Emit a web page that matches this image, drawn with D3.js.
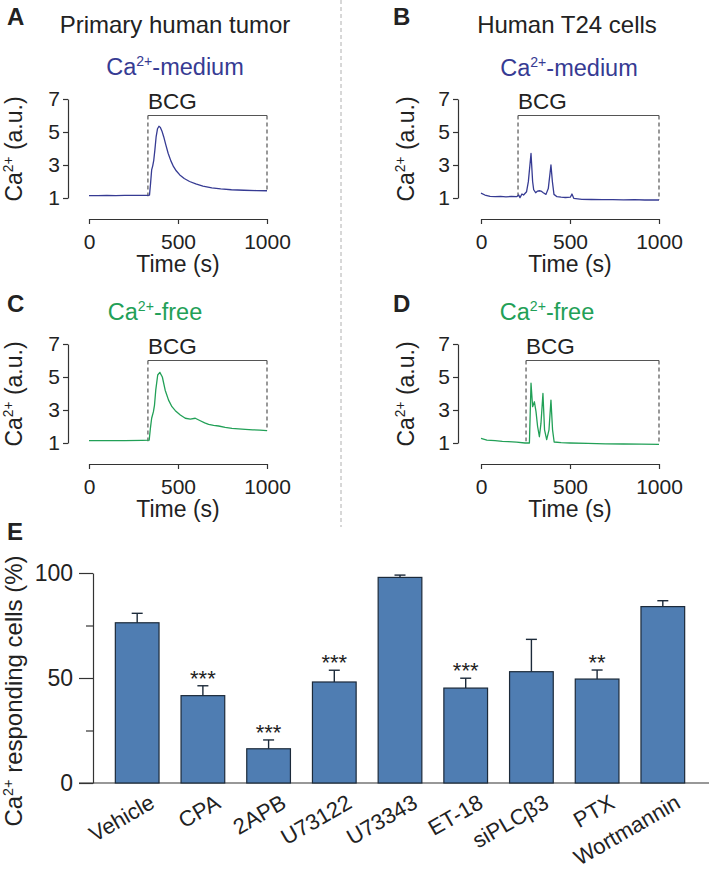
<!DOCTYPE html>
<html><head><meta charset="utf-8">
<script src="https://cdn.jsdelivr.net/npm/d3@7"></script>
<style>body{margin:0;background:#fff;} text{font-family:"Liberation Sans",Arial,Helvetica,sans-serif;fill:#222;}</style>
</head><body><svg id="c" width="709" height="872" xmlns="http://www.w3.org/2000/svg"></svg>
<script>
// ---------- DATA ----------
const tumorMediumTime = [0,50,100,150,200,250,300,330,340,346,352,358,364,370,377,385,393,401,410,420,432,445,460,475,490,510,535,565,600,640,690,740,800,870,940,1000];
const tumorMediumCa   = [1.15,1.15,1.16,1.15,1.16,1.16,1.16,1.16,1.18,1.9,2.7,2.95,3.3,3.9,4.7,5.2,5.35,5.28,5.05,4.7,4.2,3.7,3.25,2.9,2.65,2.4,2.18,2.0,1.85,1.72,1.62,1.55,1.5,1.47,1.45,1.44];

const t24MediumTime = [0,22,51,80,110,140,170,200,212,219,230,239,256,266,281,290,296,307,318,328,337,350,365,378,393,401,410,427,450,474,502,511,521,567,620,680,740,800,860,920,1000];
const t24MediumCa   = [1.3,1.18,1.1,1.08,1.1,1.07,1.09,1.08,1.18,1.02,1.24,1.18,1.38,1.99,3.7,2.0,1.5,1.32,1.42,1.44,1.42,1.32,1.22,1.57,3.0,2.0,1.22,1.08,1.05,1.03,1.05,1.24,0.98,0.92,0.91,0.9,0.9,0.89,0.9,0.88,0.88];

const tumorFreeTime = [0,100,200,300,338,345,352,362,368,375,386,398,412,428,447,466,485,513,541,569,597,625,650,672,700,728,765,803,840,878,920,960,1000];
const tumorFreeCa   = [1.14,1.15,1.15,1.16,1.17,1.9,2.5,2.9,3.3,4.2,5.12,5.28,5.0,4.2,3.6,3.2,2.96,2.7,2.5,2.45,2.5,2.35,2.22,2.13,2.07,2.03,1.95,1.89,1.86,1.83,1.8,1.78,1.75];

const t24FreeTime = [0,33,79,120,154,200,247,272,281,290,300,309,318,328,337,348,357,369,382,393,402,411,450,500,600,700,800,900,1000];
const t24FreeCa   = [1.28,1.18,1.14,1.1,1.08,1.05,1.0,1.0,4.62,3.2,3.5,2.9,2.0,1.38,2.2,4.0,1.8,1.2,1.8,3.6,1.8,1.06,1.02,1.0,0.98,0.95,0.94,0.93,0.92];

const bcgStartTimes = [331, 208, 331, 253];
const bcgEndTime = 1000;
const traceYTicks = [1,3,5,7];
const traceXTicks = [0,500,1000];

const categories  = ["Vehicle","CPA","2APB","U73122","U73343","ET-18","siPLCβ3","PTX","Wortmannin"];
const responding  = [76.3,41.6,16.3,48.1,97.9,45.2,53.0,49.5,84.0];
const respondErr  = [4.5,4.7,4.2,5.6,1.1,4.7,15.4,4.3,2.8];
const significance= ["","***","***","***","","***","","**",""];
const percentTicks = [0,50,100];
const percentMinorTicks = [25,75];

// ---------- DRAW ----------
const svg = d3.select("#c");
const BLUE = "#363b93", GREEN = "#22a057";
const FONT = "'Liberation Sans',Arial,Helvetica,sans-serif";

function caText(sel, fs, rest){
  sel.append("tspan").text("Ca");
  sel.append("tspan").attr("font-size", fs*0.6).attr("dy", -fs*0.38).text("2+");
  sel.append("tspan").attr("dy", fs*0.38).text(rest);
}

svg.append("line").attr("x1",341).attr("x2",341).attr("y1",0).attr("y2",527)
  .attr("stroke","#b0b0b0").attr("stroke-width",1).attr("stroke-dasharray","4,3");

const panels = [
  {letter:"A", time:tumorMediumTime, ca:tumorMediumCa, bcg:bcgStartTimes[0], color:BLUE, sub:"-medium",
   xr:[89,267], yAxisX:68, dy:0, letterX:7, letterY:25, subX:175, subY:75, ylabX:22, title:"Primary human tumor", titleX:175},
  {letter:"B", time:t24MediumTime, ca:t24MediumCa, bcg:bcgStartTimes[1], color:BLUE, sub:"-medium",
   xr:[481,659], yAxisX:458, dy:0, letterX:393, letterY:25, subX:569, subY:76, ylabX:414, title:"Human T24 cells", titleX:567},
  {letter:"C", time:tumorFreeTime, ca:tumorFreeCa, bcg:bcgStartTimes[2], color:GREEN, sub:"-free",
   xr:[89,267], yAxisX:68, dy:245, letterX:7, letterY:312, subX:155, subY:320, ylabX:22},
  {letter:"D", time:t24FreeTime, ca:t24FreeCa, bcg:bcgStartTimes[3], color:GREEN, sub:"-free",
   xr:[481,659], yAxisX:458, dy:245, letterX:393, letterY:312, subX:547, subY:320, ylabX:414}
];

panels.forEach(p=>{
  const x = d3.scaleLinear([0,1000], p.xr);
  const y = d3.scaleLinear([1,7], [198+p.dy, 99+p.dy]);
  svg.append("text").attr("x",p.letterX).attr("y",p.letterY).attr("font-size",24).attr("font-weight","bold").attr("fill","#111").text(p.letter);
  if(p.title) svg.append("text").attr("x",p.titleX).attr("y",33).attr("text-anchor","middle").attr("font-size",24).text(p.title);
  const st = svg.append("text").attr("x",p.subX).attr("y",p.subY).attr("text-anchor","middle").attr("font-size",23.5).style("fill",p.color);
  caText(st, 23.5, p.sub);
  const ya = svg.append("g").attr("transform",`translate(${p.yAxisX},0)`)
    .call(d3.axisLeft(y).tickValues(traceYTicks).tickSize(5).tickSizeOuter(0).tickPadding(3).tickFormat(d3.format("d")));
  ya.selectAll("text").attr("font-size",21).attr("font-family",FONT).style("fill","#222");
  ya.selectAll("path,line").attr("stroke","#333").attr("stroke-width",1.2);
  const xa = svg.append("g").attr("transform",`translate(0,${219+p.dy})`)
    .call(d3.axisBottom(x).tickValues(traceXTicks).tickSize(5).tickSizeOuter(0).tickFormat(d3.format("d")));
  xa.selectAll("text").attr("font-size",21).attr("font-family",FONT).attr("y",30).attr("dy",0).style("fill","#222");
  xa.selectAll("path,line").attr("stroke","#333").attr("stroke-width",1.2);
  svg.append("text").attr("x",(p.xr[0]+p.xr[1])/2).attr("y",272+p.dy).attr("text-anchor","middle").attr("font-size",23).text("Time (s)");
  const yl = svg.append("text").attr("transform",`translate(${p.ylabX},${149+p.dy}) rotate(-90)`).attr("text-anchor","middle").attr("font-size",23);
  caText(yl, 23, " (a.u.)");
  const endVal = p.ca[p.ca.length-1];
  svg.append("line").attr("x1",x(p.bcg)).attr("x2",x(bcgEndTime)).attr("y1",y(6)).attr("y2",y(6)).attr("stroke","#555").attr("stroke-width",1.2);
  svg.append("line").attr("x1",x(p.bcg)).attr("x2",x(p.bcg)).attr("y1",y(6)).attr("y2",y(1.1)).attr("stroke","#555").attr("stroke-width",1.2).attr("stroke-dasharray","4,3");
  svg.append("line").attr("x1",x(bcgEndTime)).attr("x2",x(bcgEndTime)).attr("y1",y(6)).attr("y2",y(endVal)).attr("stroke","#555").attr("stroke-width",1.2).attr("stroke-dasharray","4,3");
  svg.append("text").attr("x",x(p.bcg)).attr("y",y(6)-7).attr("font-size",22.5).text("BCG");
  const pts = p.time.map((t,i)=>[t,p.ca[i]]);
  svg.append("path").datum(pts).attr("fill","none").attr("stroke",p.color).attr("stroke-width",1.3)
    .attr("stroke-linejoin","round")
    .attr("d", d3.line().x(d=>x(d[0])).y(d=>y(d[1])));
});

// ---------- Panel E ----------
svg.append("text").attr("x",7).attr("y",540).attr("font-size",24).attr("font-weight","bold").attr("fill","#111").text("E");
const yE = d3.scaleLinear([0,100],[783,573]);
const xE = d3.scaleBand(categories,[93,707]).paddingInner(0.335).paddingOuter(0.34);

svg.append("line").attr("x1",79).attr("x2",709).attr("y1",yE(0)).attr("y2",yE(0)).attr("stroke","#333").attr("stroke-width",1.2);
const yaE = svg.append("g").attr("transform","translate(93,0)")
  .call(d3.axisLeft(yE).tickValues(percentTicks).tickSize(14).tickSizeOuter(0).tickPadding(6));
yaE.selectAll("text").attr("font-size",23).attr("font-family",FONT).style("fill","#222");
yaE.selectAll("path,line").attr("stroke","#333").attr("stroke-width",1.2);
const yaM = svg.append("g").attr("transform","translate(93,0)")
  .call(d3.axisLeft(yE).tickValues(percentMinorTicks).tickSize(7).tickSizeOuter(0).tickFormat(""));
yaM.select(".domain").remove();
yaM.selectAll("line").attr("stroke","#333").attr("stroke-width",1.2);

const yl = svg.append("text").attr("transform","translate(22,691) rotate(-90)").attr("text-anchor","middle").attr("font-size",24);
caText(yl, 24, " responding cells (%)");

svg.append("g").selectAll("rect").data(categories).join("rect")
  .attr("x",d=>xE(d)).attr("width",xE.bandwidth())
  .attr("y",(d,i)=>yE(responding[i])).attr("height",(d,i)=>yE(0)-yE(responding[i]))
  .attr("fill","#4f7db2").attr("stroke","#1c2a3a").attr("stroke-width",1.2);
const eg = svg.append("g").attr("stroke","#1c2a3a").attr("stroke-width",1.4);
categories.forEach((c,i)=>{
  const cx = xE(c)+xE.bandwidth()/2;
  eg.append("line").attr("x1",cx).attr("x2",cx).attr("y1",yE(responding[i])).attr("y2",yE(responding[i]+respondErr[i]));
  eg.append("line").attr("x1",cx-5.5).attr("x2",cx+5.5).attr("y1",yE(responding[i]+respondErr[i])).attr("y2",yE(responding[i]+respondErr[i]));
  if(significance[i]) svg.append("text").attr("x",cx).attr("y",yE(responding[i]+respondErr[i])).attr("text-anchor","middle").attr("font-size",22).text(significance[i]);
});
const xa = svg.append("g").attr("transform",`translate(0,${yE(0)})`)
  .call(d3.axisBottom(xE).tickSize(0).tickSizeOuter(0));
xa.select(".domain").remove();
xa.selectAll("text").attr("font-size",22).attr("font-family",FONT).style("fill","#222")
  .attr("text-anchor","end").attr("y",0).attr("dy",0).attr("transform","translate(19,24) rotate(-30)");
</script></body></html>
